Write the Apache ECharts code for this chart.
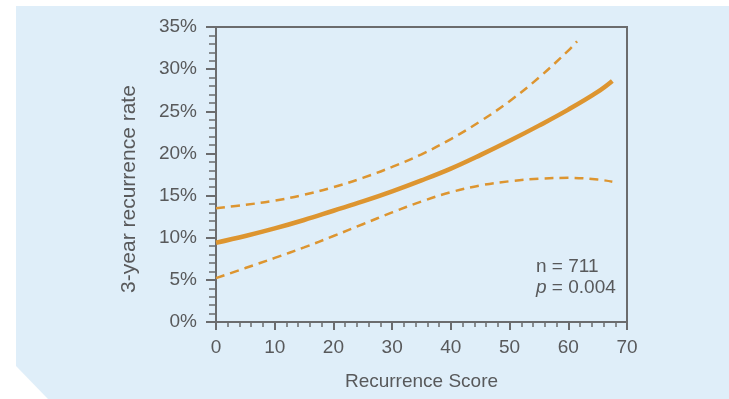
<!DOCTYPE html>
<html>
<head>
<meta charset="utf-8">
<script src="https://cdn.jsdelivr.net/npm/echarts@6/dist/echarts.min.js"></script>
<style>
  html, body { margin: 0; padding: 0; background: #ffffff; }
  #chart { width: 729px; height: 399px; }
</style>
</head>
<body>
<div id="chart"></div>
<script>
// Recurrence score (x) against estimated 3-year recurrence rate (%)
const scoreX = [0, 5, 10, 15, 20, 25, 30, 35, 40, 45, 50, 55, 60, 65, 67.5];
const rateFit = [9.4, 10.2, 11.1, 12.1, 13.2, 14.3, 15.5, 16.8, 18.2, 19.8, 21.5, 23.3, 25.2, 27.3, 28.6];
const lowerCI = [5.2, 6.4, 7.6, 8.85, 10.2, 11.6, 13.0, 14.3, 15.4, 16.2, 16.7, 17.0, 17.1, 16.9, 16.65];
const upperX = [0, 5, 10, 15, 20, 25, 30, 35, 40, 45, 50, 55, 60, 61.5];
const upperCI = [13.5, 13.9, 14.4, 15.1, 16.0, 17.1, 18.4, 19.9, 21.7, 23.8, 26.2, 29.0, 32.2, 33.3];

const xTicks = { min: 0, max: 70, step: 10 };
const yTicks = { min: 0, max: 35, step: 5 };
const noteLines = ['n = 711', 'p = 0.004'];

const pair = (xs, ys) => xs.map((x, i) => [x, ys[i]]);

const ORANGE = '#dd9530';
const AXIS = '#6b6c6e';
const TEXT = '#58595b';
const FONT = '"Liberation Sans", Arial, sans-serif';

const chart = echarts.init(document.getElementById('chart'));
chart.setOption({
  animation: false,
  backgroundColor: '#ffffff',
  grid: {
    left: 216, top: 27, width: 411, height: 295,
    show: true, borderColor: AXIS, borderWidth: 2, backgroundColor: 'transparent'
  },
  xAxis: {
    type: 'value', min: xTicks.min, max: xTicks.max, interval: xTicks.step,
    name: 'Recurrence Score', nameLocation: 'middle', nameGap: 50,
    nameTextStyle: { color: TEXT, fontSize: 19, fontFamily: FONT },
    axisLine: { lineStyle: { color: AXIS, width: 2 } },
    axisTick: { length: 8, lineStyle: { color: AXIS, width: 2 } },
    minorTick: { show: true, splitNumber: 5, length: 5, lineStyle: { color: AXIS, width: 1.5 } },
    splitLine: { show: false },
    axisLabel: { color: TEXT, fontSize: 19, fontFamily: FONT, margin: 16 }
  },
  yAxis: {
    type: 'value', min: yTicks.min, max: yTicks.max, interval: yTicks.step,
    axisLine: { show: true, lineStyle: { color: AXIS, width: 2 } },
    axisTick: { show: true, length: 10, lineStyle: { color: AXIS, width: 2 } },
    minorTick: { show: true, splitNumber: 5, length: 7, lineStyle: { color: AXIS, width: 1.5 } },
    splitLine: { show: false },
    axisLabel: { color: TEXT, fontSize: 19, fontFamily: FONT, margin: 19, formatter: '{value}%' }
  },
  graphic: [
    {
      type: 'polygon', z: -100, silent: true,
      shape: { points: [[16, 6], [729, 6], [729, 399], [48, 399], [16, 366]] },
      style: { fill: '#dfeef9' }
    },
    {
      type: 'text', silent: true,
      x: 129, y: 189, rotation: Math.PI / 2,
      style: {
        text: '3-year recurrence rate', fill: TEXT, font: '21px ' + FONT,
        align: 'center', verticalAlign: 'middle'
      }
    },
    {
      type: 'text', silent: true, x: 536, y: 256,
      style: {
        text: '{n|' + noteLines[0] + '}\n{p|p}{n|' + noteLines[1].slice(1) + '}',
        fill: TEXT, font: '19px ' + FONT, lineHeight: 21,
        rich: {
          n: { fontSize: 19, fontFamily: FONT, fill: TEXT, lineHeight: 21 },
          p: { fontSize: 19, fontFamily: FONT, fontStyle: 'italic', fill: TEXT, lineHeight: 21 }
        }
      }
    }
  ],
  series: [
    {
      type: 'line', data: pair(scoreX, rateFit), smooth: 0.4, showSymbol: false, z: 3,
      lineStyle: { color: ORANGE, width: 4.5, cap: 'butt' }
    },
    {
      type: 'line', data: pair(upperX, upperCI), smooth: 0.4, showSymbol: false,
      lineStyle: { color: ORANGE, width: 2.5, type: [9, 6] }
    },
    {
      type: 'line', data: pair(scoreX, lowerCI), smooth: 0.4, showSymbol: false,
      lineStyle: { color: ORANGE, width: 2.5, type: [9, 6] }
    }
  ]
});
</script>
</body>
</html>
